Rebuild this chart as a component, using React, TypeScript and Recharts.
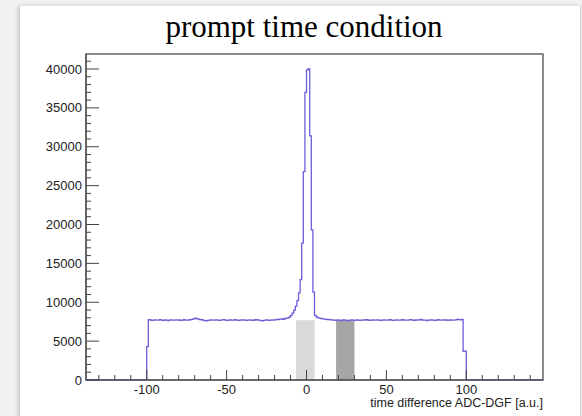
import { ComposedChart, Line, XAxis, YAxis, ReferenceArea } from "recharts";

// histogram: 1 unit wide bins, first bin starts at -100
const BIN_START = -100;
const COUNTS = [
  // -100 .. -1
  4300, 7750, 7720, 7680, 7700, 7740, 7690, 7710, 7760, 7700,
  7680, 7720, 7700, 7650, 7710, 7740, 7700, 7690, 7730, 7700,
  7720, 7680, 7710, 7750, 7700, 7690, 7720, 7760, 7800, 7850,
  7950, 7900, 7820, 7780, 7750, 7700, 7640, 7620, 7680, 7700,
  7720, 7690, 7700, 7740, 7710, 7680, 7700, 7730, 7760, 7700,
  7680, 7700, 7720, 7690, 7710, 7750, 7700, 7680, 7700, 7720,
  7740, 7700, 7660, 7690, 7720, 7700, 7680, 7720, 7760, 7720,
  7690, 7640, 7620, 7660, 7700, 7720, 7680, 7710, 7740, 7700,
  7740, 7800, 7760, 7820, 7850, 7800, 7880, 7950, 8000, 8100,
  8300, 8600, 9000, 9500, 10200, 11200, 12900, 17600, 26800, 37000,
  // 0 .. 99
  39900, 40000, 31400, 19300, 11300, 8300,
  8100, 8000, 7950, 7900, 7850, 7820, 7800, 7780, 7760, 7740,
  7720, 7700, 7680, 7720, 7700, 7650, 7690, 7720, 7700, 7680,
  7640, 7700, 7740, 7700, 7680, 7720, 7700, 7660, 7690, 7720,
  7700, 7750, 7720, 7680, 7700, 7720, 7690, 7700, 7740, 7710,
  7680, 7700, 7730, 7700, 7690, 7720, 7760, 7700, 7680, 7710,
  7740, 7700, 7690, 7720, 7750, 7710, 7690, 7700, 7730, 7760,
  7700, 7680, 7720, 7700, 7740, 7780, 7720, 7700, 7690, 7650,
  7700, 7720, 7740, 7700, 7680, 7710, 7750, 7700, 7690, 7720,
  7700, 7740, 7680, 7700, 7720, 7690, 7700, 7730, 7780, 7760,
  7740, 7800, 3700, 3700,
];

const X_MIN = -138;
const X_MAX = 148;
const Y_MAX = 41930;

const X_LABELS = [-100, -50, 0, 50, 100];
const X_TICKS = [-130, -120, -110, -100, -90, -80, -70, -60, -50, -40, -30, -20, -10, 0,
  10, 20, 30, 40, 50, 60, 70, 80, 90, 100, 110, 120, 130, 140];
const Y_LABELS = [0, 5000, 10000, 15000, 20000, 25000, 30000, 35000, 40000];
const Y_TICKS = Array.from({ length: 42 }, (_, i) => i * 1000);

// time gates (prompt / delayed windows) and their height
const GATES = [
  [-6.5, 5],
  [18.5, 30],
];
const GATE_LEVEL = 7700;

const TITLE = "prompt time condition";
const X_TITLE = "time difference ADC-DGF [a.u.]";

const data = [
  { t: X_MIN, n: 0 },
  ...COUNTS.map((n, i) => ({ t: BIN_START + i, n })),
  { t: BIN_START + COUNTS.length, n: 0 },
  { t: X_MAX, n: 0 },
];

const AXIS = "#444";
const FONT = "'Liberation Sans', Arial, sans-serif";
const GATE_COLORS = ["#d9d9d9", "#a6a6a6"];

const XTick = (props: any) => {
  const { x, y, payload } = props;
  const major = X_LABELS.includes(payload.value);
  return (
    <g>
      <line x1={x} x2={x} y1={y} y2={y - (major ? 10 : 5)} stroke={AXIS} />
      {major && (
        <text x={x} y={y + 14} textAnchor="middle" fontFamily={FONT} fontSize={13} fill="#222">
          {payload.value}
        </text>
      )}
    </g>
  );
};

const YTick = (props: any) => {
  const { x, y, payload } = props;
  const major = Y_LABELS.includes(payload.value);
  return (
    <g>
      <line x1={x} x2={x + (major ? 13 : 5)} y1={y} y2={y} stroke={AXIS} />
      {major && (
        <text x={x - 4} y={y + 4.5} textAnchor="end" fontFamily={FONT} fontSize={13} fill="#222">
          {payload.value}
        </text>
      )}
    </g>
  );
};

const XTitle = (props: any) => {
  const vb = props.viewBox || { x: 86, y: 380, width: 457 };
  return (
    <text x={vb.x + vb.width} y={vb.y + 27} textAnchor="end" fontFamily={FONT} fontSize={12.5} fill="#222">
      {X_TITLE}
    </text>
  );
};

export default function App() {
  return (
    <div style={{ position: "absolute", left: 0, top: 0, width: 582, height: 416, background: "#f1f1f1", overflow: "hidden" }}>
      <div
        style={{
          position: "absolute",
          left: 20,
          top: 6,
          width: 560,
          height: 430,
          background: "#fff",
          borderRight: "1px solid #d0d0d0",
          boxShadow: "-2px 0 4px rgba(0,0,0,0.18)",
        }}
      />
      <svg width={582} height={52} style={{ position: "absolute", left: 0, top: 0 }}>
        <text x={304} y={37} textAnchor="middle" fontFamily="'Liberation Serif', 'Times New Roman', serif" fontSize={31} fill="#000">
          {TITLE}
        </text>
      </svg>
      <div style={{ position: "absolute", left: 0, top: 0 }}>
        <ComposedChart width={582} height={416} data={data} margin={{ top: 54, right: 39, left: 0, bottom: 0 }}>
          <XAxis
            dataKey="t"
            type="number"
            domain={[X_MIN, X_MAX]}
            ticks={X_TICKS}
            interval={0}
            allowDataOverflow
            tick={XTick}
            tickLine={false}
            tickSize={0}
            tickMargin={0}
            axisLine={{ stroke: AXIS }}
            height={36}
            label={XTitle}
          />
          <YAxis
            type="number"
            domain={[0, Y_MAX]}
            ticks={Y_TICKS}
            interval={0}
            allowDataOverflow
            tick={YTick}
            tickLine={false}
            tickSize={0}
            tickMargin={0}
            axisLine={{ stroke: AXIS }}
            width={86}
          />
          {GATES.map(([a, b], i) => (
            <ReferenceArea key={i} x1={a} x2={b} y1={0} y2={GATE_LEVEL} fill={GATE_COLORS[i]} fillOpacity={1} stroke="none" />
          ))}
          <ReferenceArea x1={X_MIN} x2={X_MAX} y1={0} y2={Y_MAX} fill="none" stroke="#666" strokeWidth={1.5} />
          <Line
            dataKey="n"
            type="stepAfter"
            stroke="#6a5fd8"
            strokeWidth={1.3}
            dot={false}
            isAnimationActive={false}
          />
        </ComposedChart>
      </div>
    </div>
  );
}
